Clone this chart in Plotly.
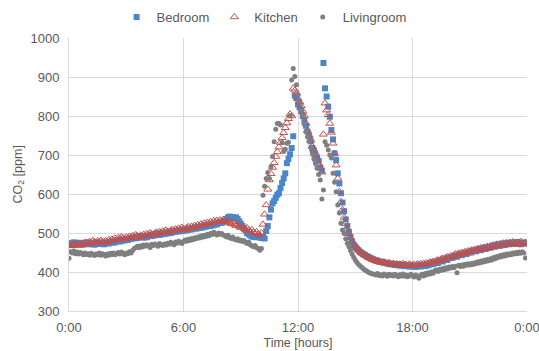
import plotly.graph_objects as go

# time in hours, 5-minute steps
hours = [i * 5 / 60 for i in range(288)]

bedroom = [
    472, 474, 470, 476, 473, 471, 475, 472, 474, 470, 473, 476,
    474, 471, 475, 473, 470, 474, 476, 472, 475, 473, 471, 474,
    476, 473, 477, 475, 479, 476, 480, 478, 482, 479, 483, 481,
    484, 482, 486, 485, 488, 486, 490, 487, 489, 492, 490, 488,
    491, 489, 493, 495, 492, 496, 494, 497, 499, 495, 498, 500,
    497, 501, 499, 503, 500, 502, 505, 503, 506, 504, 507, 505,
    508, 506, 510, 508, 511, 509, 512, 514, 511, 515, 513, 516,
    514, 518, 516, 519, 521, 518, 522, 520, 524, 522, 525, 527,
    526, 529, 531, 536, 540, 542, 538, 541, 538, 540, 536, 530,
    524, 518, 512, 506, 500, 497, 494, 492, 490, 491, 489, 490,
    489, 487, 490, 486, 505, 518, 540, 560, 576, 582, 590, 598,
    602, 615, 628, 640, 653, 679, 690, 702, 718, 748, 852, 846,
    830, 822, 812, 800, 788, 775, 760, 748, 735, 718, 710, 700,
    694, 685, 668, 660, 936, 871, 850, 824, 798, 764, 740, 704,
    687, 653, 627, 602, 578, 556, 535, 518, 503, 490, 478, 470,
    465, 460, 456, 452, 449, 446, 444, 441, 439, 437, 435, 433,
    431, 430, 428, 427, 426, 425, 424, 423, 422, 421, 420, 421,
    419, 418, 420, 417, 419, 416, 418, 415, 417, 416, 414, 416,
    414, 416, 413, 415, 417, 414, 416, 418, 415, 419, 417, 420,
    422, 420, 424, 426, 423, 428, 430, 427, 432, 434, 431, 436,
    438, 436, 440, 442, 439, 444, 446, 443, 447, 449, 446, 450,
    452, 450, 454, 456, 453, 457, 459, 456, 460, 462, 459, 463,
    465, 462, 466, 468, 465, 469, 471, 467, 470, 473, 469, 472,
    474, 471, 475, 473, 476, 472, 477, 474, 471, 475, 473, 476,
]

kitchen = [
    468, 470, 467, 472, 469, 471, 468, 473, 470, 474, 471, 476,
    473, 478, 475, 480, 477, 474, 479, 476, 481, 478, 475, 480,
    477, 482, 479, 484, 481, 486, 483, 488, 485, 490, 487, 484,
    489, 486, 491, 488, 493, 490, 495, 492, 489, 494, 491, 496,
    493, 498, 495, 500, 497, 494, 499, 502, 498, 503, 500, 505,
    502, 507, 504, 501, 506, 509, 505, 510, 507, 512, 509, 514,
    511, 508, 513, 516, 512, 517, 514, 519, 516, 521, 518, 523,
    520, 525, 522, 527, 524, 529, 526, 531, 528, 532, 529, 533,
    530, 534, 531, 528, 532, 527, 524, 528, 522, 519, 523, 517,
    514, 518, 512, 509, 513, 507, 504, 508, 502, 499, 503, 497,
    495, 500, 522, 548, 572, 612, 636, 652, 668, 680, 696, 708,
    720, 732, 744, 757, 770, 782, 793, 805, 800, 871, 866, 858,
    845, 836, 826, 812, 800, 781, 762, 750, 738, 722, 713, 700,
    687, 676, 667, 656, 753, 833, 815, 803, 781, 758, 730, 704,
    674, 640, 606, 580, 560, 540, 524, 510, 498, 487, 478, 470,
    466, 461, 457, 453, 449, 446, 443, 441, 438, 436, 434, 432,
    431, 429, 427, 428, 425, 424, 426, 423, 422, 424, 421, 420,
    422, 419, 421, 418, 420, 417, 421, 418, 419, 416, 420, 418,
    417, 419, 416, 420, 418, 421, 419, 422, 420, 423, 421, 425,
    424, 427, 425, 429, 431, 428, 433, 435, 432, 437, 439, 436,
    441, 439, 443, 446, 442, 448, 445, 450, 447, 452, 449, 454,
    452, 456, 453, 458, 455, 460, 457, 462, 459, 463, 460, 465,
    462, 467, 464, 469, 466, 471, 468, 472, 469, 474, 471, 475,
    472, 476, 473, 477, 474, 471, 476, 473, 478, 474, 471, 475,
]

livingroom = [
    435, 452, 449, 454, 447, 451, 446, 450, 448, 444, 449, 445,
    447, 443, 448, 445, 442, 446, 444, 449, 443, 447, 445, 441,
    446, 443, 448, 445, 449, 444, 447, 450, 446, 451, 448, 444,
    449, 447, 452, 449, 455, 460, 463, 466, 462, 467, 464, 469,
    466, 470, 467, 463, 471, 468, 472, 469, 466, 473, 470, 468,
    472, 469, 474, 471, 476, 473, 470, 477, 474, 479, 476, 473,
    478, 482, 479, 484, 481, 486, 483, 488, 485, 490, 487, 492,
    489, 494, 491, 497, 493, 499, 496, 502, 498, 495, 500, 497,
    499, 495, 493, 490, 494, 488, 486, 490, 484, 482, 485, 480,
    482, 478, 481, 476, 473, 477, 470, 467, 465, 468, 462, 460,
    456, 460, 597, 620, 640, 655, 640, 670, 696, 734, 766, 781,
    781, 777, 732, 709, 715, 730, 733, 801, 892, 922, 901, 880,
    855, 837, 815, 800, 780, 760, 747, 735, 720, 704, 690, 678,
    666, 650, 636, 587, 610, 734, 725, 713, 700, 692, 653, 630,
    606, 572, 551, 525, 508, 499, 485, 474, 465, 455, 446, 438,
    431, 425, 420, 416, 412, 409, 405, 403, 400, 398, 396, 395,
    394, 392, 396, 391, 393, 390, 395, 392, 389, 394, 391, 393,
    390, 394, 391, 388, 393, 390, 395, 389, 392, 388, 391, 394,
    390, 387, 392, 389, 384, 391, 394, 390, 396, 393, 398, 395,
    400, 397, 403, 405, 401, 407, 404, 409, 406, 411, 408, 413,
    410, 414, 411, 415, 398, 417, 414, 418, 415, 420, 417, 421,
    418, 422, 419, 424, 421, 426, 423, 428, 425, 430, 427, 432,
    429, 434, 431, 437, 434, 440, 437, 442, 439, 444, 441, 446,
    443, 447, 444, 449, 446, 450, 447, 451, 448, 452, 449, 436,
]

tick_vals = [0, 6, 12, 18, 24]
tick_text = ["0:00", "6:00", "12:00", "18:00", "0:00"]
y_title = "CO<sub>2</sub> [ppm]"
x_title = "Time [hours]"

font = "Liberation Sans, Arial, sans-serif"
grey_text = "#595959"
grid = "#d9d9d9"

fig = go.Figure()
fig.add_trace(go.Scatter(
    x=hours, y=bedroom, mode="markers", name="Bedroom",
    marker=dict(symbol="square", size=6, color="#4a87c8", line=dict(width=0)),
))
fig.add_trace(go.Scatter(
    x=hours, y=kitchen, mode="markers", name="Kitchen",
    marker=dict(symbol="triangle-up-open", size=7, color="#c0504d", line=dict(width=1)),
))
fig.add_trace(go.Scatter(
    x=hours, y=livingroom, mode="markers", name="Livingroom",
    marker=dict(symbol="circle", size=5, color="#7f7f7f", line=dict(width=0)),
))

fig.add_annotation(
    text=y_title, textangle=-90, showarrow=False,
    xref="paper", x=0, xanchor="center", xshift=-51,
    yref="paper", y=0.5, yanchor="middle",
    font=dict(size=12.5, color=grey_text),
)

fig.update_layout(
    width=539, height=351,
    margin=dict(l=69, r=12, t=38, b=40, autoexpand=False),
    paper_bgcolor="white", plot_bgcolor="white",
    font=dict(family=font, size=13, color=grey_text),
    showlegend=True,
    legend=dict(orientation="h", x=0.49, xanchor="center", xref="container",
                y=1.022, yanchor="bottom", yref="paper",
                font=dict(size=13, color=grey_text),
                itemwidth=30, tracegroupgap=0),
    xaxis=dict(range=[0, 24], tickvals=tick_vals, ticktext=tick_text,
               showgrid=True, gridcolor=grid, gridwidth=1, zeroline=False,
               showline=True, linecolor=grid, ticks="", automargin=False,
               ticklabeloverflow="allow", ticklabelstandoff=4,
               title=dict(text=x_title, font=dict(size=12.5, color=grey_text), standoff=4),
               tickfont=dict(size=13, color=grey_text)),
    yaxis=dict(range=[300, 1000], dtick=100, showgrid=True, gridcolor=grid, gridwidth=1,
               zeroline=False, showline=True, linecolor=grid, ticks="", automargin=False,
               ticklabelstandoff=6,
               tickfont=dict(size=13, color=grey_text)),
)

fig.write_html(
    "out.html",
    config={"displayModeBar": False},
    post_script="document.body.style.margin='0';document.body.style.overflow='hidden';",
)
